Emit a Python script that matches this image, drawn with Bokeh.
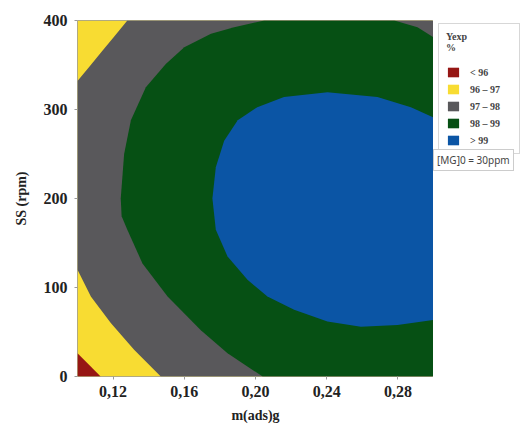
from bokeh.plotting import figure
from bokeh.layouts import row
from bokeh.models import Range1d, FixedTicker, Legend, LegendItem, CustomJSTickFormatter
from bokeh.embed import file_html
from bokeh.resources import INLINE

# ---------------- data ----------------
x_ticks = [0.12, 0.16, 0.20, 0.24, 0.28]
y_ticks = [0, 100, 200, 300, 400]
x_min, x_max = 0.10, 0.30
s_min, s_max = 0, 400

level_labels = ["< 96", "96 \u2013 97", "97 \u2013 98", "98 \u2013 99", "> 99"]
level_colors = ["#961614", "#F8DC32", "#59585B", "#065014", "#0B55A5"]

# contour line Yexp = 96 (bottom-left corner)
c96_x = [0.100, 0.1066, 0.113]
c96_s = [26, 13, 0]

# contour line Yexp = 97 (two pieces inside the frame)
c97_upper_x = [0.128, 0.121, 0.114, 0.107, 0.100]
c97_upper_s = [400, 383, 366, 349, 332]
c97_lower_x = [0.100, 0.1075, 0.1187, 0.1318, 0.1468]
c97_lower_s = [120, 90, 60, 30, 0]

# contour line Yexp = 98
c98_left_x = [0.205, 0.188, 0.175, 0.160, 0.1496, 0.1384, 0.130, 0.1262, 0.1243,
              0.1248, 0.128, 0.1365, 0.1506, 0.1693, 0.1843, 0.204]
c98_left_s = [400, 392.5, 385, 370, 351, 325, 288, 250, 200,
              180, 165, 127, 90, 52, 26, 0]
c98_right_x = [0.300, 0.291, 0.278]
c98_right_s = [381, 392.5, 400]

# contour line Yexp = 99 (closed on the right edge)
c99_x = [0.300, 0.2873, 0.2685, 0.2404, 0.216, 0.201, 0.190, 0.1824, 0.1777, 0.1758,
         0.1777, 0.1843, 0.1955, 0.2067, 0.2217, 0.2404, 0.2592, 0.2798, 0.300]
c99_s = [291, 302.6, 314, 319.5, 314, 302.6, 288, 265, 235, 200,
         165, 134.8, 108.6, 90, 75, 61.8, 56, 58, 63.6]

note_text = "[MG]0 = 30ppm"

# ---------------- main figure ----------------
p = figure(frame_width=356, frame_height=356,
           x_range=Range1d(x_min, x_max), y_range=Range1d(s_min, s_max),
           output_backend="svg", toolbar_location=None,
           min_border_left=77, min_border_right=0, min_border_top=20, min_border_bottom=52,
           background_fill_color="white", border_fill_color="white")
p.grid.visible = False
p.outline_line_color = "#9a9a9a"
p.outline_line_width = 1

# yellow band as the background of the frame (96-97)
p.patch([x_min, x_max, x_max, x_min], [s_min, s_min, s_max, s_max],
        fill_color=level_colors[1], line_color=None)
# red corner (< 96)
p.patch(c96_x + [x_min], c96_s + [s_min], fill_color=level_colors[0], line_color=None)
# grey (>= 97)
gx = c97_upper_x + c97_lower_x + [x_max, x_max]
gs = c97_upper_s + c97_lower_s + [s_min, s_max]
p.patch(gx, gs, fill_color=level_colors[2], line_color=None)
# green (>= 98)
p.patch(c98_left_x + [x_max] + c98_right_x, c98_left_s + [s_min] + c98_right_s,
        fill_color=level_colors[3], line_color=None)
# blue (>= 99)
p.patch(c99_x, c99_s, fill_color=level_colors[4], line_color=None)

# axes
p.xaxis.ticker = FixedTicker(ticks=x_ticks)
p.yaxis.ticker = FixedTicker(ticks=y_ticks)
p.xaxis.formatter = CustomJSTickFormatter(code="return tick.toFixed(2).replace('.', ',');")
for ax in (p.xaxis[0], p.yaxis[0]):
    ax.major_label_text_font = "Liberation Serif"
    ax.major_label_text_font_style = "bold"
    ax.major_label_text_font_size = "16px"
    ax.major_label_text_color = "#222222"
    ax.axis_label_text_font = "Liberation Serif"
    ax.axis_label_text_font_style = "bold"
    ax.axis_label_text_font_size = "14px"
    ax.axis_label_text_color = "#222222"
    ax.axis_line_color = None
    ax.major_tick_line_color = "#9a9a9a"
    ax.major_tick_in = 0
    ax.major_tick_out = 3
    ax.minor_tick_line_color = None
p.xaxis.axis_label = "m(ads)g"
p.yaxis.axis_label = "SS (rpm)"
p.xaxis.major_label_standoff = 6
p.yaxis.major_label_standoff = 7
p.xaxis.axis_label_standoff = 8
p.yaxis.axis_label_standoff = 12

# ---------------- legend panel (separate narrow figure) ----------------
side = figure(width=92, height=428, x_range=Range1d(0, 1), y_range=Range1d(0, 1),
              output_backend="svg", toolbar_location=None,
              x_axis_location=None, y_axis_location=None,
              min_border_left=0, min_border_right=0, min_border_top=0, min_border_bottom=0,
              background_fill_color="white", border_fill_color="white")
side.grid.visible = False
side.outline_line_color = None

swatches = [side.patch([0], [0], fill_color=c, line_color=None) for c in level_colors]
items = [LegendItem(label=lab, renderers=[r]) for lab, r in zip(level_labels, swatches)]
legend = Legend(items=items, location=(5, 222), title="Yexp\n%",
                title_text_font="Liberation Serif", title_text_font_style="bold",
                title_text_font_size="10px", title_standoff=13,
                label_text_font="Liberation Serif", label_text_font_style="bold",
                label_text_font_size="10px", label_height=12, label_width=42,
                glyph_width=14, glyph_height=12, spacing=5,
                padding=7, margin=0, label_standoff=10,
                border_line_color="#b0b0b0", border_line_width=1,
                background_fill_color="white", background_fill_alpha=1.0)
side.add_layout(legend, "center")

r_note = side.patch([0], [0], fill_alpha=0, line_alpha=0)
note = Legend(items=[LegendItem(label=note_text, renderers=[r_note])], location=(0, 205),
              label_text_font="Noto Sans", label_text_font_size="10px",
              label_height=11, glyph_width=0, glyph_height=11, label_standoff=0,
              padding=3, margin=0,
              border_line_color="#9a9a9a", border_line_width=1,
              background_fill_color="white", background_fill_alpha=1.0)
side.add_layout(note, "center")

layout = row(p, side)
open("out.html", "w").write(file_html(layout, INLINE))
